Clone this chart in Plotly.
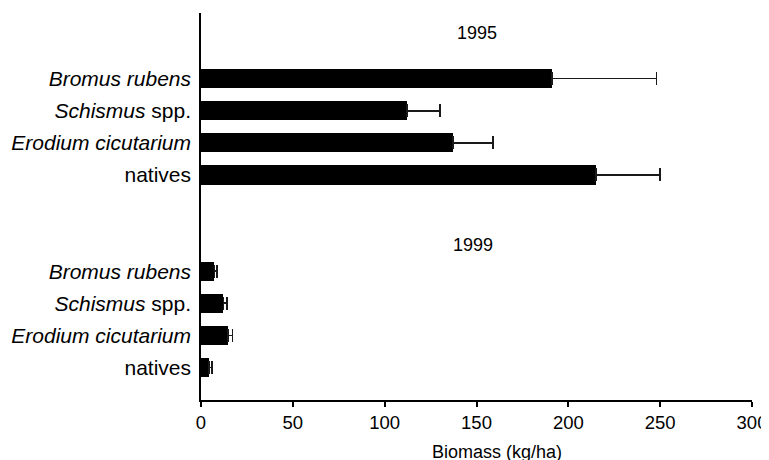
import plotly.graph_objects as go

# ---- data ----
categories = ["<i>Bromus rubens</i>", "<i>Schismus</i> spp.", "<i>Erodium cicutarium</i>", "natives"]
years = ["1995", "1999"]
values_1995 = [191, 112, 137, 215]
errors_1995 = [57, 18, 22, 35]
values_1999 = [7.3, 12.2, 14.6, 4.4]
errors_1999 = [1.4, 1.8, 2.5, 1.6]
x_ticks = [0, 50, 100, 150, 200, 250, 300]

# slot positions on a numeric category axis (two empty slots between years)
pos_1995 = [0, 1, 2, 3]
pos_1999 = [6, 7, 8, 9]

FONT = "Liberation Sans, Arial, Helvetica, sans-serif"

fig = go.Figure()
for vals, errs, pos in [(values_1995, errors_1995, pos_1995), (values_1999, errors_1999, pos_1999)]:
    fig.add_trace(go.Bar(
        x=vals, y=pos, orientation="h", width=0.6,
        marker=dict(color="black", line=dict(width=0)),
        error_x=dict(type="data", array=errs, symmetric=False,
                     arrayminus=[0] * len(errs),
                     color="#1a1a1a", thickness=1.8, width=6.5),
        showlegend=False, hoverinfo="x",
    ))

# page body has an 8px margin, so the figure is offset by 8px in the window
fig.update_layout(
    width=769, height=460,
    margin=dict(l=193, r=25, t=5, b=68, autoexpand=False),
    plot_bgcolor="white", paper_bgcolor="white",
    font=dict(family=FONT, color="black"),
    bargap=0,
)
fig.update_xaxes(
    range=[0, 300], tickvals=x_ticks, ticktext=[str(v) for v in x_ticks],
    showline=True, linecolor="black", linewidth=1.5,
    ticks="outside", ticklen=5, tickwidth=1.5, tickcolor="black",
    tickfont=dict(size=18.5, family=FONT, color="black"),
    showgrid=False, zeroline=False, automargin=False,
)
fig.update_yaxes(
    range=[10.01, -2.04], tickvals=pos_1995 + pos_1999, ticktext=categories + categories,
    showline=True, linecolor="black", linewidth=1.5,
    ticks="", ticklabelstandoff=4,
    tickfont=dict(size=21, family=FONT, color="black"),
    showgrid=False, zeroline=False, automargin=False,
)

fig.add_annotation(x=150, y=-1.41, xref="x", yref="y", text=years[0], showarrow=False,
                   font=dict(size=18, family=FONT, color="black"))
fig.add_annotation(x=148, y=5.19, xref="x", yref="y", text=years[1], showarrow=False,
                   font=dict(size=18, family=FONT, color="black"))
fig.add_annotation(x=(497 - 201) / 551, y=0, xref="paper", yref="paper", yanchor="middle",
                   yshift=-52, text="Biomass (kg/ha)", showarrow=False,
                   font=dict(size=18, family=FONT, color="black"))

fig.write_html("out.html")
